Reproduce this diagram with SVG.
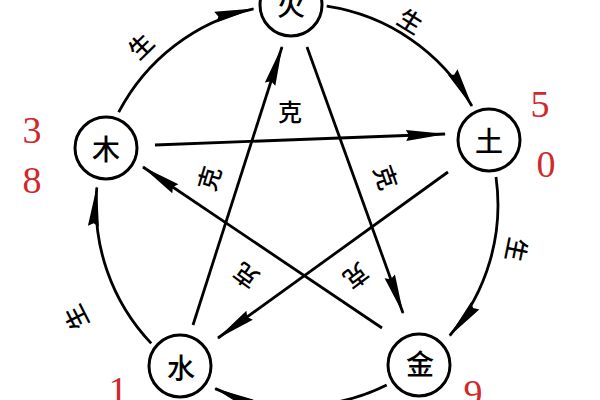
<svg xmlns="http://www.w3.org/2000/svg" width="600" height="400" viewBox="0 0 600 400">
<style>
.node circle{fill:#fff;stroke:#000;stroke-width:3}
.node text{font-family:"Noto Sans CJK SC","Noto Sans CJK JP",sans-serif;font-size:28px;font-weight:500;fill:#000;text-anchor:middle;dominant-baseline:central}
.conn path{fill:none;stroke:#000;stroke-width:2.8;marker-end:url(#ah)}
.lbl{font-family:"Noto Sans CJK SC","Noto Sans CJK JP",sans-serif;font-size:24px;font-weight:500;fill:#000;text-anchor:middle;dominant-baseline:central}
.num{font-family:"Liberation Serif",serif;font-size:38px;fill:#d0282c;text-anchor:middle}
</style>
<defs>
<marker id="ah" markerUnits="userSpaceOnUse" markerWidth="46" markerHeight="16" viewBox="-42 -8 44 16" refX="0" refY="0" orient="auto">
<path d="M1.5,0 L-39,-5.5 L-36,0 L-39,5.5 Z" fill="#000"/>
</marker>
</defs>
<rect width="600" height="400" fill="#fff"/>
<g id="connectors" class="conn">
<path id="c-mu-huo" d="M118.7,112.2 A201,201 0 0 1 253.5,8.8"/>
<path id="c-huo-tu" d="M326.7,6.2 A201,201 0 0 1 471.9,106"/>
<path id="c-tu-jin" d="M496,177 A201,201 0 0 1 449.8,335.5"/>
<path id="c-jin-shui" d="M386.7,384.9 A201,201 0 0 1 215.2,388.6"/>
<path id="c-shui-mu" d="M151.2,343.4 A201,201 0 0 1 96.8,187.5"/>
<path id="k-mu-tu" d="M155,145 L445,134"/>
<path id="k-tu-shui" d="M448,172 L218,338"/>
<path id="k-shui-huo" d="M193,325 L282,47"/>
<path id="k-huo-jin" d="M307,47 L403,313"/>
<path id="k-jin-mu" d="M382,328 L143,167"/>
</g>
<g id="labels">
<text class="lbl" transform="translate(140,45) rotate(-44.5)">生</text>
<text class="lbl" transform="translate(411,20) rotate(31.7)">生</text>
<text class="lbl" transform="translate(518,250) rotate(101.5)">生</text>
<text class="lbl" transform="translate(75,318) rotate(-117)">生</text>
<text class="lbl" transform="translate(290,110)">克</text>
<text class="lbl" transform="translate(208,178) rotate(-73)">克</text>
<text class="lbl" transform="translate(387,177) rotate(71)">克</text>
<text class="lbl" transform="translate(245,277) rotate(216)">克</text>
<text class="lbl" transform="translate(357,277) rotate(143)">克</text>
</g>
<g id="node-huo" class="node"><circle cx="291" cy="5" r="31"/><text x="291" y="4">火</text></g>
<g id="node-tu" class="node"><circle cx="489" cy="140" r="31"/><text x="489" y="140">土</text></g>
<g id="node-jin" class="node"><circle cx="419" cy="365" r="31"/><text x="420" y="363">金</text></g>
<g id="node-shui" class="node"><circle cx="180" cy="366" r="31"/><text x="181" y="367">水</text></g>
<g id="node-mu" class="node"><circle cx="106" cy="148" r="31"/><text x="106" y="148">木</text></g>
<g id="numbers">
<text class="num" x="32" y="143">3</text>
<text class="num" x="32" y="193">8</text>
<text class="num" x="540" y="117">5</text>
<text class="num" x="546" y="177">0</text>
<text class="num" x="118" y="403">1</text>
<text class="num" x="473" y="406">9</text>
</g>
</svg>
